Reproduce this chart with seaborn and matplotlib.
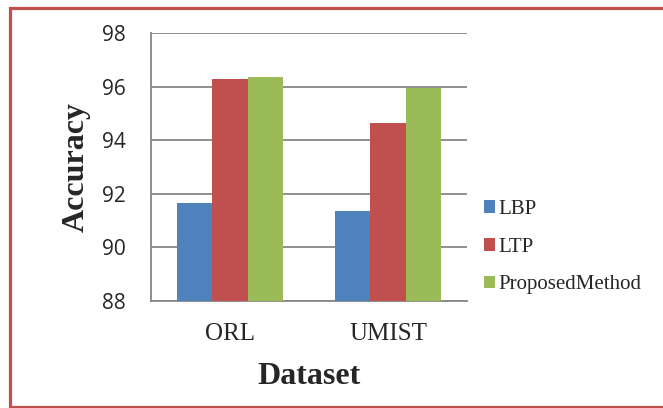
import matplotlib
matplotlib.use("Agg")
import matplotlib.pyplot as plt
import seaborn as sns
import pandas as pd
from matplotlib.lines import Line2D

datasets = ["ORL", "UMIST"]
methods = ["LBP", "LTP", "ProposedMethod"]
lbp = [91.65, 91.36]
ltp = [96.27, 94.65]
proposed = [96.34, 95.93]
yticks = [88, 90, 92, 94, 96, 98]

rows = []
for m, vals in zip(methods, [lbp, ltp, proposed]):
    for d, v in zip(datasets, vals):
        rows.append({"Dataset": d, "Method": m, "Accuracy": v})
df = pd.DataFrame(rows)

sns.set_style("white")
plt.rcParams["font.family"] = ["Liberation Serif", "DejaVu Serif"]

W, H = 663, 408
fig = plt.figure(figsize=(W / 100, H / 100), dpi=100)
ax = fig.add_axes([151 / W, 1 - 301 / H, 316 / W, 268 / H])

palette = {"LBP": "#4F81BD", "LTP": "#C0504D", "ProposedMethod": "#9BBB59"}
sns.barplot(data=df, x="Dataset", y="Accuracy", hue="Method", order=datasets,
            hue_order=methods, palette=palette, width=0.665, linewidth=0,
            saturation=1, ax=ax, zorder=3)

ax.set_ylim(88, 98)
ax.set_yticks(yticks)
ax.set_yticklabels([str(t) for t in yticks], fontfamily="Open Sans", fontsize=15)
ax.yaxis.grid(True, color="#878787", linewidth=1.3, zorder=0)
ax.set_axisbelow(True)
for s in ["top", "right"]:
    ax.spines[s].set_visible(False)
for s in ["left", "bottom"]:
    ax.spines[s].set_color("#878787")
    ax.spines[s].set_linewidth(1.3)
ax.tick_params(axis="y", length=0, pad=18)
ax.tick_params(axis="x", length=0, pad=16, labelsize=18)
for lab in ax.get_xticklabels():
    lab.set_fontfamily("Liberation Serif")

ax.set_xlabel("Dataset", fontsize=23, fontweight="bold", fontfamily="Liberation Serif")
ax.set_ylabel("Accuracy", fontsize=23, fontweight="bold", fontfamily="Liberation Serif")
ax.xaxis.set_label_coords(0.5, -0.228)
ax.yaxis.set_label_coords(-0.19, 0.5)

handles, labels = ax.get_legend_handles_labels()
leg = ax.legend(handles, labels, loc="upper left",
                bbox_to_anchor=(484 / W, 1 - 200 / H), bbox_transform=fig.transFigure,
                frameon=False, borderpad=0, borderaxespad=0,
                handlelength=0.53, handleheight=0.53, handletextpad=0.15,
                labelspacing=0.9, prop={"family": "Liberation Serif", "size": 15})

# page border (left, top, bottom; right side is cut off in the reference)
bx = [W + 5, 9.5, 9.5, W + 5]
by = [7.5, 7.5, 406.5, 406.5]
fig.lines.append(Line2D([x / W for x in bx], [1 - y / H for y in by],
                        transform=fig.transFigure, color="#C0504D",
                        linewidth=2.3, solid_joinstyle="miter"))

fig.savefig("out.png", dpi=100)
